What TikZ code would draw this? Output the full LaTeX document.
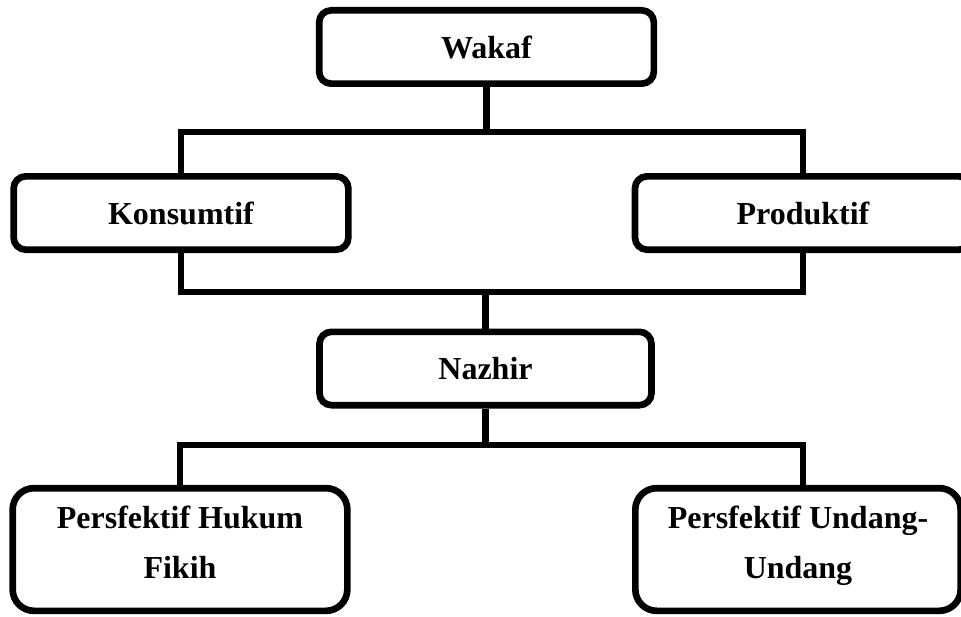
\documentclass[tikz,border=0pt]{standalone}
\usepackage{fontspec}
\setmainfont{Liberation Serif}
\usetikzlibrary{positioning,calc}
\tikzset{
  box/.style={draw, line width=5pt, rounded corners=9pt, minimum width=251pt, minimum height=55pt, inner sep=0pt, font=\fontsize{24}{37.5}\selectfont\bfseries, fill=white, align=center},
  tallbox/.style={box, minimum height=92pt, rounded corners=16pt},
  link/.style={line width=5pt}
}
\begin{document}
\begin{tikzpicture}[x=0.75pt,y=-0.75pt]
  \useasboundingbox (0,0) rectangle (961,617);
  \clip (0,0) rectangle (961,617);
  % boxes
  \node[box] (wakaf) at (486.5,47) {Wakaf};
  \node[box] (konsumtif) at (181,213) {Konsumtif};
  \node[box,minimum width=252pt] (produktif) at (803,213) {Produktif};
  \node[box,minimum width=249pt] (nazhir) at (485.5,368.5) {Nazhir};
  \node[tallbox] (fikih) at (180,549.5) {Persfektif Hukum\\Fikih\strut};
  \node[tallbox,minimum width=244pt] (uu) at (798,549.5) {Persfektif Undang-\\Undang\strut};
  % junctions
  \coordinate (j1) at (485,132);
  \coordinate (j2) at (485,292);
  \coordinate (j3) at (485,445);
  % links
  \draw[link] (wakaf.south) -- (wakaf.south |- j1);
  \draw[link] (konsumtif.north) |- (j1) -| (produktif.north);
  \draw[link] (konsumtif.south) |- (j2) -| (produktif.south);
  \draw[link] (nazhir.north) -- (nazhir.north |- j2);
  \draw[link] (nazhir.south) -- (nazhir.south |- j3);
  \draw[link] (fikih.north) |- (j3) -| (produktif.south |- uu.north);
\end{tikzpicture}
\end{document}
